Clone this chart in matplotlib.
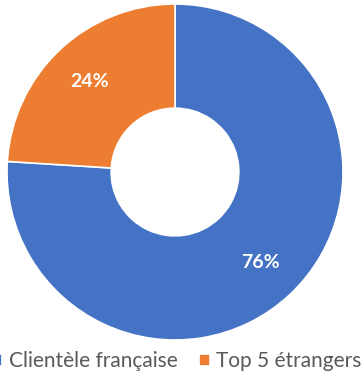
import matplotlib.pyplot as plt

# data
labels = ['Clientèle française', 'Top 5 étrangers']
values = [76, 24]
colors = ['#4472C4', '#ED7D31']

plt.rcParams['font.family'] = ['Lato', 'DejaVu Sans']

W, H = 364, 378
fig = plt.figure(figsize=(W / 100, H / 100), dpi=100)
# pie box in pixels: x 7..343, y 4..340
ax = fig.add_axes([7 / W, (H - 340) / H, 336 / W, 336 / H])

wedges, texts, autotexts = ax.pie(
    values, colors=colors, startangle=90, counterclock=False,
    autopct='%d%%', pctdistance=0.74,
    wedgeprops=dict(width=0.62, edgecolor='white', linewidth=1.2),
    textprops=dict(color='white', fontsize=14, fontweight='bold'))
ax.set_xlim(-1, 1)
ax.set_ylim(-1, 1)
ax.set_aspect('equal')
ax.axis('off')

fig.legend(wedges, labels, loc='center left', bbox_to_anchor=(-8 / W, 1 - 361 / H),
           ncol=2, frameon=False, fontsize=15, labelcolor='#595959',
           handlelength=0.5, handleheight=0.5, handletextpad=0.3,
           columnspacing=1.05, borderpad=0, borderaxespad=0)

fig.savefig('out.png', dpi=100)
